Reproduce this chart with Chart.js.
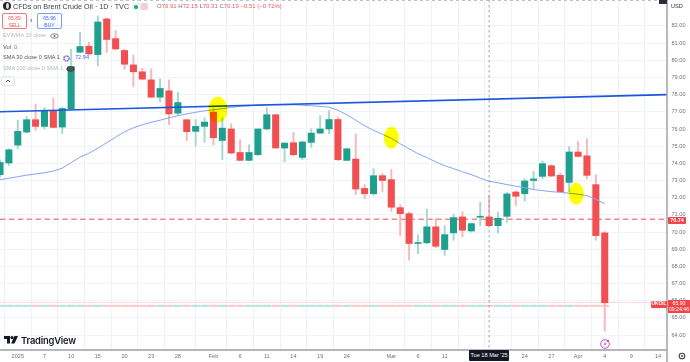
<!DOCTYPE html>
<html lang="en">
  <head>
    <meta charset="UTF-8" />
    <title>CFDs on Brent Crude Oil</title>
    <style>
      html,
      body {
        margin: 0;
        padding: 0;
        background: #fff;
        overflow: hidden;
      }

      #wrap {
        position: relative;
        width: 690px;
        height: 362px;
        font-family: "Liberation Sans", Arial, sans-serif;
        color: #131722;
      }

      .t {
        position: absolute;
        white-space: nowrap;
        line-height: 1;
      }

      .box {
        position: absolute;
        box-sizing: border-box;
        text-align: center;
        border-radius: 2px;
        line-height: 1;
      }

      .t b {
        font-weight: normal;
        color: #70737c;
      }
    </style>
    <script src="https://cdn.jsdelivr.net/npm/chart.js"></script>
  </head>
  <body>
    <div id="wrap">
      <canvas id="chart" width="690" height="362" style="display:block"></canvas>

      <div style="position:absolute;left:3px;top:2px;width:8px;height:8px;border-radius:50%;background:#222"></div>
      <div style="position:absolute;left:6px;top:3px;width:2.5px;height:6px;border-radius:50%;background:#ddd"></div>
      <div class="t" style="left:13px;top:2.5px;font-size:7.2px;color:#3a3e48">CFDs on Brent Crude Oil · 1D · TVC</div>
      <div class="box" style="left:132px;top:3px;width:16px;height:7px;background:#e8f5f2;border-radius:3px"></div>
      <div style="position:absolute;left:134px;top:4.5px;width:4px;height:4px;border-radius:50%;background:#1f9e8c"></div>
      <div class="box" style="left:141px;top:3px;width:7px;height:7px;background:#f7ccd2"></div>
      <div class="t" style="left:157px;top:3.2px;font-size:6px;color:#ef5a5e"><b>O</b>70.91 <b>H</b>72.15 <b>L</b>70.31 <b>C</b>70.19 −0.51 (−0.72%)</div>

      <div class="box" style="left:2px;top:13px;width:25px;height:16px;border:1px solid #f0777b;color:#ef5350;font-size:5px;padding-top:2px">65.89<br /><span style="line-height:8px">SELL</span></div>
      <div class="t" style="left:30px;top:17px;font-size:7px;color:#444">›</div>
      <div class="box" style="left:37px;top:13px;width:25px;height:16px;border:1px solid #7f9df5;color:#2962ff;font-size:5px;padding-top:2px">65.96<br /><span style="line-height:8px">BUY</span></div>

      <div class="t" style="left:3px;top:33px;font-size:5.6px;color:#b4b7bf">EVWMA 10 close</div>
      <svg style="position:absolute;left:50px;top:33px" width="9" height="6"><ellipse cx="4.5" cy="3" rx="3.8" ry="2.2" fill="none" stroke="#666" stroke-width="0.8" /><circle cx="4.5" cy="3" r="1" fill="#666" /></svg>
      <div class="t" style="left:3px;top:44.5px;font-size:5.8px;color:#555">Vol</div>
      <div class="t" style="left:14px;top:44.5px;font-size:5.8px;color:#ef5350">0</div>
      <div class="t" style="left:3px;top:55px;font-size:5.6px;color:#555">SMA 30 close 0 SMA 1</div>
      <svg style="position:absolute;left:62px;top:54px" width="9" height="9"><circle cx="4.5" cy="4.5" r="2.6" fill="none" stroke="#7b5fd6" stroke-width="1.4" stroke-dasharray="1.6 0.5" /></svg>
      <div class="t" style="left:75px;top:55px;font-size:5.6px;color:#3f6fe8">72.94</div>
      <div class="t" style="left:3px;top:66px;font-size:5.6px;color:#b4b7bf">SMA 200 close 0 SMA 1</div>
      <svg style="position:absolute;left:66px;top:66px" width="9" height="6"><ellipse cx="4.5" cy="3" rx="3.8" ry="2.2" fill="#555" stroke="#333" stroke-width="0.8" /></svg>
      <div class="box" style="left:1px;top:76px;width:14px;height:10px;border:1px solid #e4e6ea"></div>
      <svg style="position:absolute;left:5px;top:79px" width="6" height="4"><path d="M1 3 L3 1 L5 3" fill="none" stroke="#333" stroke-width="0.8" /></svg>

      <svg style="position:absolute;left:4px;top:336px" width="14" height="9"><path d="M0 0 H6 V7.5 H3 V3 H0 Z M10.5 0 H14 L10.5 7.5 H7 Z" fill="#131722" /><circle cx="8" cy="1.6" r="1.6" fill="#131722" /></svg>
      <div class="t" style="left:21px;top:336px;font-size:9.4px;font-family:Inter,sans-serif;font-weight:600;letter-spacing:-0.2px;color:#131722">TradingView</div>

      <svg style="position:absolute;left:599px;top:338px" width="12" height="12"><circle cx="6" cy="6" r="4.3" fill="#fff" stroke="#b655d6" stroke-width="1" /><path d="M6.6 3.4 L4.6 6.4 H6 L5.4 8.6 L7.6 5.6 H6.2 Z" fill="#b655d6" /><circle cx="9" cy="3" r="1.1" fill="#ef3340" /></svg>

      <div class="box" style="left:469px;top:350px;width:40px;height:11px;background:#131722;color:#fff;font-size:5.6px;padding-top:2.8px;border-radius:1px">Tue 18 Mar '25</div>

      <div class="box" style="left:659px;top:0;width:8px;height:4px;background:#2a2e39;border-radius:0"></div>
      <div class="t" style="left:671px;top:3.5px;font-size:5.6px;color:#333">USD</div>
      <div class="box" style="left:668px;top:217px;width:18px;height:7px;background:#f0454a;color:#fff;font-size:5.4px;font-weight:bold;padding-top:0.9px;border-radius:1px">70.74</div>
      <div class="box" style="left:651px;top:300.5px;width:16px;height:7px;background:#f0454a;color:#fff;font-size:4.8px;font-weight:bold;padding-top:1px;border-radius:1px">UKOIL</div>
      <div class="box" style="left:668px;top:300px;width:22px;height:13px;background:#f0454a;color:#fff;font-size:5.2px;padding-top:1.2px;border-radius:0;line-height:1.1">65.90<br />09:24:46</div>
      <svg style="position:absolute;left:677px;top:351px" width="10" height="10"><circle cx="5" cy="5" r="2.8" fill="none" stroke="#444" stroke-width="1.1" /><circle cx="5" cy="5" r="1" fill="#444" /></svg>
    </div>

    <script>
      const categories = [
        "", "", "2025", "", "", "7", "", "", "10", "", "", "15", "", "", "20", "", "", "23", "", "",
        "28", "", "", "", "Feb", "", "", "6", "", "", "11", "", "", "14", "", "", "19", "", "", "24",
        "", "", "", "", "Mar", "", "", "6", "", "", "11", "", "", "14", "", "", "19", "", "", "24",
        "", "", "27", "", "", "Apr", "", "", "4", "", "", "9", "", "", "14", "",
      ];

      const opens = [
        73.34, 74.02, 75.06, 75.82, 76.54, 76.15, 77.08, 76.11, 77.17, 80.47,
        80.82, 80.33, 82.41, 81.26, 80.57, 79.73, 79.33, 78.86, 77.85, 78.22,
        76.92, 76.54, 75.86, 76.15, 76.98, 75.33, 76.0, 74.63, 74.17, 74.5,
        76.0, 76.83, 74.89, 75.2, 74.34, 75.22, 75.76, 76.0, 76.55, 74.17,
        74.25, 72.54, 72.23, 73.28, 73.05, 71.42, 71.07, 69.33, 69.37, 70.3,
        68.98, 69.95, 70.88, 70.06, 70.86, 70.88, 70.37, 70.91, 72.33, 72.23,
        73.0, 73.24, 73.86, 73.3, 72.89, 74.66, 74.44, 72.76, 69.95,
      ];
      const closes = [
        74.05, 74.79, 75.86, 76.54, 76.15, 77.08, 76.09, 77.19, 79.64, 80.8,
        80.37, 82.23, 81.21, 80.66, 79.77, 79.33, 78.9, 77.85, 78.36, 76.88,
        77.54, 75.84, 76.15, 76.4, 75.49, 76.05, 74.6, 74.17, 74.63, 76.0,
        76.83, 74.89, 75.18, 74.5, 75.24, 75.76, 76.0, 76.55, 74.21, 74.85,
        72.5, 72.23, 73.28, 73.0, 71.44, 71.07, 69.33, 69.37, 70.3, 69.17,
        69.85, 70.84, 70.1, 70.49, 70.88, 70.37, 70.8, 72.22, 72.08, 72.97,
        73.09, 73.98, 73.26, 72.35, 74.66, 74.4, 73.3, 69.79, 65.88,
      ];
      const highs = [
        74.2, 74.85, 76.5, 76.73, 77.45, 77.25, 77.8, 77.27, 80.64, 81.63,
        81.05, 82.58, 82.45, 81.73, 80.64, 80.31, 79.54, 79.5, 78.92, 78.86,
        78.14, 76.54, 76.54, 76.65, 77.23, 76.65, 76.3, 75.37, 75.08, 76.0,
        77.25, 76.83, 75.2, 75.8, 75.31, 76.0, 76.77, 77.08, 76.71, 74.85,
        75.72, 72.76, 73.69, 73.4, 73.63, 71.58, 71.17, 69.83, 71.34, 70.78,
        70.37, 71.03, 71.19, 70.49, 71.73, 72.13, 71.17, 72.3, 72.4, 73.1,
        73.53, 74.13, 73.92, 73.44, 74.98, 75.27, 75.43, 73.34, 70.02,
      ];
      const lows = [
        73.2, 73.88, 74.83, 75.76, 75.92, 76.0, 76.09, 75.72, 77.17, 80.45,
        80.31, 79.67, 80.45, 80.6, 79.48, 78.47, 78.86, 77.85, 77.58, 76.26,
        76.83, 75.33, 75.0, 75.22, 75.08, 74.21, 74.56, 74.17, 74.17, 74.46,
        75.95, 74.89, 74.09, 74.44, 74.21, 74.93, 75.72, 75.72, 74.17, 74.17,
        72.17, 71.94, 72.13, 72.37, 71.2, 69.79, 68.36, 68.74, 69.33, 69.08,
        68.65, 69.52, 69.72, 69.98, 70.37, 70.33, 69.95, 70.57, 71.54, 71.8,
        72.5, 73.1, 73.24, 72.35, 72.35, 74.37, 73.1, 69.52, 64.23,
      ];

      const sma30 = [
        73.05, 73.13, 73.22, 73.31, 73.38, 73.45, 73.55, 73.72, 74.04, 74.36,
        74.59, 74.88, 75.2, 75.52, 75.84, 76.07, 76.24, 76.39, 76.51, 76.65,
        76.77, 76.88, 76.97, 77.06, 77.12, 77.18, 77.26, 77.32, 77.35, 77.39,
        77.41, 77.41, 77.41, 77.41, 77.38, 77.35, 77.32, 77.27, 77.09, 76.83,
        76.51, 76.19, 75.92, 75.69, 75.46, 75.14, 74.85, 74.56, 74.33, 74.09,
        73.86, 73.69, 73.51, 73.34, 73.14, 72.95, 72.87, 72.76, 72.67, 72.58,
        72.47, 72.41, 72.35, 72.31, 72.26, 72.2, 72.12, 71.91, 71.65,
      ];

      const priceTicks = [
        64, 65, 66, 67, 68, 69, 70, 71, 72, 73, 74, 75, 76, 77, 78, 79, 80, 81, 82,
      ];

      const trendStart = 77.0;
      const trendEnd = 78.0;
      const stopLevel = 70.74;
      const lastPrice = 65.9;
      const volumeLevel = 65.7;
      const crosshairBar = 55;

      // yellow marker blobs: bar position, price
      const highlightBars = [24.5, 44, 64.8];
      const highlightPrices = [77.12, 75.49, 72.23];

      const upColor = "#1fa08f";
      const downColor = "#f05052";
      const upWick = "#a3d9d1";
      const downWick = "#f9b7b9";

      const isUp = opens.map((o, i) => closes[i] >= o);

      const pageBackground = {
        id: "pageBackground",
        beforeDraw(chart) {
          const ctx = chart.ctx;
          ctx.save();
          ctx.fillStyle = "#fff";
          ctx.fillRect(0, 0, chart.width, chart.height);
          ctx.restore();
        },
      };

      const chartFurniture = {
        id: "chartFurniture",
        afterDatasetsDraw(chart) {
          const ctx = chart.ctx;
          const x = chart.scales.x;
          const y = chart.scales.y;
          const area = chart.chartArea;

          ctx.save();
          // hand drawn highlighter marks
          ctx.globalCompositeOperation = "multiply";
          ctx.fillStyle = "#ffff00";
          highlightBars.forEach((bar, i) => {
            const big = i === 0;
            ctx.beginPath();
            ctx.ellipse(
              x.getPixelForValue(bar),
              y.getPixelForValue(highlightPrices[i]),
              big ? 9.5 : 7.5,
              big ? 13 : 11,
              0,
              0,
              Math.PI * 2
            );
            ctx.fill();
          });
          ctx.globalCompositeOperation = "source-over";

          // crosshair
          const cx = x.getPixelForValue(crosshairBar);
          ctx.strokeStyle = "#8a8d96";
          ctx.lineWidth = 0.8;
          ctx.setLineDash([2.5, 2.5]);
          ctx.beginPath();
          ctx.moveTo(cx, area.top);
          ctx.lineTo(cx, area.bottom);
          ctx.stroke();

          // top dotted edge
          ctx.strokeStyle = "#b0b3ba";
          ctx.setLineDash([3, 3]);
          ctx.beginPath();
          ctx.moveTo(area.left, 0.5);
          ctx.lineTo(area.right, 0.5);
          ctx.stroke();

          // price axis rule runs to the bottom of the page
          ctx.setLineDash([]);
          ctx.strokeStyle = "#9a9da5";
          ctx.lineWidth = 1.4;
          ctx.beginPath();
          ctx.moveTo(area.right, 0);
          ctx.lineTo(area.right, chart.height);
          ctx.moveTo(area.left, area.bottom);
          ctx.lineTo(area.right, area.bottom);
          ctx.stroke();
          ctx.restore();
        },
      };

      new Chart(document.getElementById("chart").getContext("2d"), {
        data: {
          labels: categories,
          datasets: [
            {
              type: "line",
              label: "Last price",
              data: categories.map(() => lastPrice),
              borderColor: "#fbd5d6",
              borderWidth: 1,
              pointRadius: 0,
              order: 9,
            },
            {
              type: "bar",
              label: "Vol",
              data: opens.map(() => [volumeLevel - 0.04, volumeLevel + 0.04]),
              backgroundColor: isUp.map((u) => (u ? "#b5e4de" : "#fcc9ca")),
              barThickness: 8,
              grouped: false,
              order: 8,
            },
            {
              type: "line",
              label: "Level",
              data: categories.map(() => stopLevel),
              borderColor: "#f8868a",
              borderWidth: 1.6,
              borderDash: [5.5, 3.4],
              pointRadius: 0,
              order: 7,
            },
            {
              type: "bar",
              label: "Wicks",
              data: highs.map((h, i) => [lows[i], h]),
              backgroundColor: isUp.map((u) => (u ? upWick : downWick)),
              barThickness: 1.3,
              grouped: false,
              order: 6,
            },
            {
              type: "bar",
              label: "Bodies",
              data: opens.map((o, i) => [o, closes[i]]),
              backgroundColor: isUp.map((u) => (u ? upColor : downColor)),
              barThickness: 6.4,
              minBarLength: 1,
              grouped: false,
              order: 5,
            },
            {
              type: "line",
              label: "SMA 30",
              data: sma30,
              borderColor: "#86a3f6",
              borderWidth: 1,
              pointRadius: 0,
              order: 3,
            },
            {
              type: "line",
              label: "Trend line",
              data: categories.map((c, i) =>
                i === 0 ? trendStart : i === categories.length - 1 ? trendEnd : null
              ),
              spanGaps: true,
              borderColor: "#1c56e0",
              borderWidth: 1.6,
              pointRadius: 0,
              order: 2,
            },
          ],
        },
        options: {
          responsive: false,
          animation: false,
          layout: { padding: 0 },
          plugins: {
            legend: { display: false },
            tooltip: { enabled: false },
          },
          scales: {
            x: {
              offset: false,
              grid: { color: "#edf2f7", lineWidth: 1, drawTicks: false },
              border: { display: false },
              afterFit: (s) => {
                s.height = 12;
                s.paddingLeft = 0;
                s.paddingRight = 0;
              },
              afterBuildTicks: (s) => {
                s.ticks = s.ticks.filter((t) => categories[t.value] !== "");
              },
              ticks: {
                autoSkip: false,
                maxRotation: 0,
                padding: 3,
                color: "#70737c",
                font: { size: 5.6, family: "'Liberation Sans', Arial, sans-serif" },
              },
            },
            y: {
              position: "right",
              min: 63.13,
              max: 83.51,
              grid: { color: "#f0f3f8", lineWidth: 1, drawTicks: false },
              border: { display: false },
              afterFit: (s) => {
                s.width = 23;
                s.paddingTop = 0;
                s.paddingBottom = 0;
              },
              afterBuildTicks: (s) => {
                s.ticks = priceTicks.map((v) => ({ value: v }));
              },
              ticks: {
                padding: 4.5,
                color: "#70737c",
                font: { size: 5.6, family: "'Liberation Sans', Arial, sans-serif" },
                callback: (v) => v.toFixed(2),
              },
            },
          },
        },
        plugins: [pageBackground, chartFurniture],
      });
    </script>
  </body>
</html>
